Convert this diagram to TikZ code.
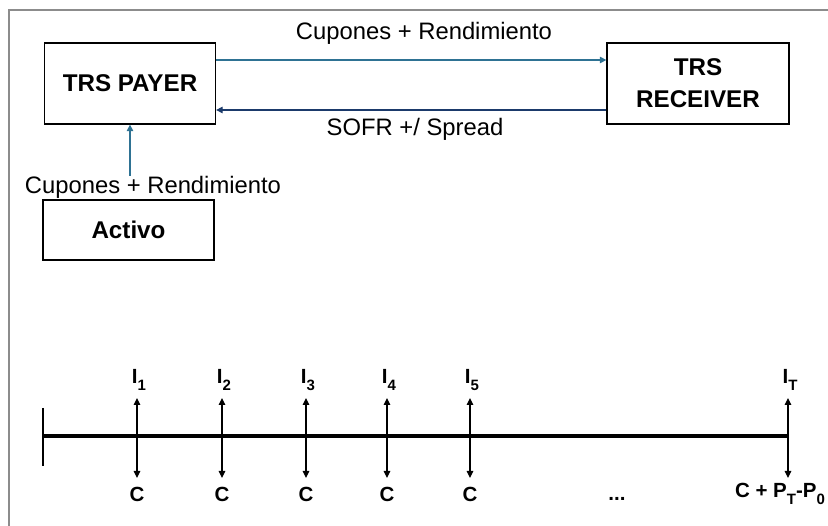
\documentclass[tikz,border=0pt]{standalone}
\usepackage{fontspec}
\setmainfont{Liberation Sans}
\usetikzlibrary{arrows.meta}
\definecolor{flowteal}{HTML}{2E7293}
\definecolor{flownavy}{HTML}{1B3A6B}
\definecolor{framegray}{HTML}{8C8C8C}
% bold subscript set in the text font
\newcommand{\bsub}[1]{\raisebox{-0.32em}{\fontsize{15}{15}\selectfont\bfseries #1}}
\begin{document}
\begin{tikzpicture}[x=1pt,y=-1pt,
  party/.style={draw=black, line width=1.3pt, fill=white, inner sep=0pt,
    font=\fontsize{24.2}{32}\selectfont\bfseries, align=center},
  flowlabel/.style={font=\fontsize{23.8}{26}\selectfont, inner sep=0pt},
  flowA/.style={draw=flowteal, line width=1.3pt, -{Triangle[width=6.5pt,length=6.5pt]}},
  flowB/.style={draw=flownavy, line width=1.3pt, -{Triangle[width=6.5pt,length=6.5pt]}},
  tickarrow/.style={draw=black, line width=1.2pt,
    {Triangle[width=6.5pt,length=7pt]}-{Triangle[width=6.5pt,length=7pt]}},
  ticklabel/.style={font=\fontsize{20.5}{22}\selectfont\bfseries, inner sep=0pt}]
\useasboundingbox (0,0) rectangle (828,526);
% outer frame, running off the right and bottom edges
\draw[framegray, line width=1.6pt] (9,540) -- (9,10) -- (840,10);

% parties
\node[party, minimum width=171pt, minimum height=81pt] (payer) at (130,83.5) {TRS PAYER};
\node[party, minimum width=182pt, minimum height=81pt] (receiver) at (698,83.5) {TRS\\RECEIVER};
\node[party, minimum width=171pt, minimum height=60pt] (activo) at (128.5,230) {Activo};

% cash flows between the parties
\draw[flowA] ([yshift=23.5pt]payer.east) -- ([yshift=23.5pt]receiver.west);
\draw[flowB] ([yshift=-26.5pt]receiver.west) -- ([yshift=-26.5pt]payer.east);
\node[flowlabel] (cupTop) at (424,33) {Cupones + Rendimiento};
\node[flowlabel] (sofr) at (415,129) {SOFR +/ Spread};

\coordinate (vstart) at (130,176);
\draw[flowA] (vstart) -- (vstart |- payer.south);
\node[flowlabel, fill=white] (cupLeft) at (153,187) {Cupones + Rendimiento};

% timeline
\coordinate (tstart) at (43,436);
\coordinate (tend) at (788,436);
\draw[line width=4pt] (tstart) -- (tend);
\draw[line width=1.6pt] (43,408) -- (43,466);

\foreach \x/\k in {137/1,222/2,306/3,387/4,470/5} {
  \coordinate (up\k) at (\x,398);
  \coordinate (dn\k) at (\x,478);
  \draw[tickarrow] (up\k) -- (dn\k);
  \node[ticklabel] (I\k) at (\x+2,380) {I\bsub{\k}};
  \node[ticklabel] (C\k) at (\x,494) {C};
}
\coordinate (upT) at (788,398);
\coordinate (dnT) at (788,478);
\draw[tickarrow] (upT) -- (dnT);
\node[ticklabel] (IT) at (790,380) {I\bsub{T}};
\node[ticklabel] (dots) at (617,499) {...};
\node[ticklabel] (CT) at (780,494) {C + P\bsub{T}-P\bsub{0}};
\end{tikzpicture}
\end{document}
